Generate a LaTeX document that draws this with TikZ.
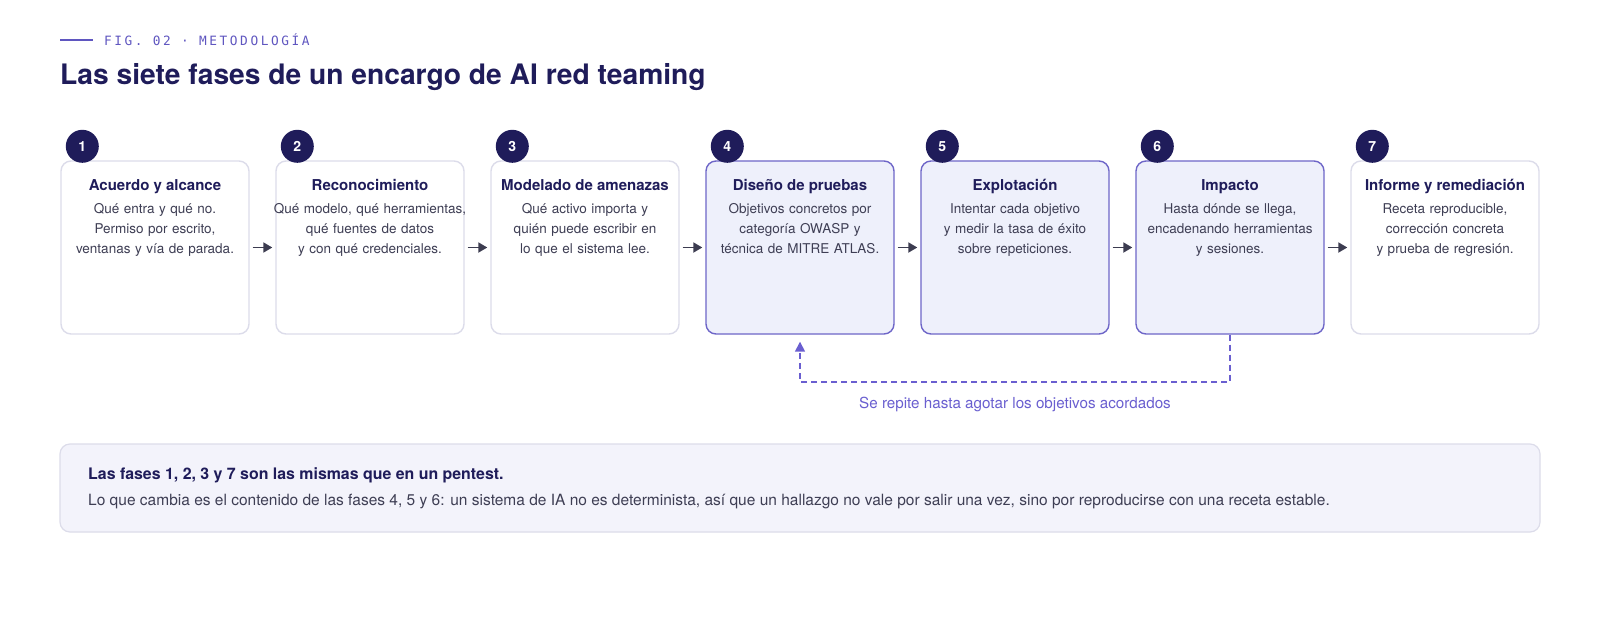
\documentclass[tikz,border=0pt]{standalone}
\usepackage{fontspec}
\setmainfont{TeX Gyre Heros}
\newfontfamily\monof[LetterSpace=20]{DejaVu Sans Mono}
\usetikzlibrary{arrows.meta,calc}
\definecolor{navy}{HTML}{1F1C5A}
\definecolor{accent}{HTML}{5F56C0}
\definecolor{loopc}{HTML}{6A5FD0}
\definecolor{bodyc}{HTML}{3E3E54}
\definecolor{lightb}{HTML}{DCDCEA}
\definecolor{hifill}{HTML}{EEF0FB}
\definecolor{hiborder}{HTML}{6E66C8}
\definecolor{notefill}{HTML}{F3F3FB}
\definecolor{arrowc}{HTML}{3C3C50}
\tikzset{
  phase/.style={draw=lightb, line width=1.4pt, fill=white, rounded corners=10pt,
    minimum width=188pt, minimum height=173pt, inner sep=0pt},
  hiphase/.style={phase, draw=hiborder, fill=hifill},
  ptitle/.style={anchor=base, text=navy, inner sep=0pt, font=\fontsize{15}{18}\selectfont\bfseries},
  pbody/.style={anchor=base, text=bodyc, inner sep=0pt, text width=220pt, align=center,
    font=\fontsize{13.5}{20}\selectfont},
  num/.style={circle, fill=navy, text=white, minimum size=33pt, inner sep=0pt,
    font=\fontsize{14}{16}\selectfont\bfseries},
  flow/.style={draw=arrowc, line width=1.8pt, -{Triangle[width=10pt,length=9pt]},
    shorten <=3pt, shorten >=3pt},
  loopline/.style={draw=loopc, line width=1.6pt, dash pattern=on 6pt off 4pt,
    -{Triangle[width=10pt,length=10pt]}, shorten >=7pt},
}
\begin{document}
\begin{tikzpicture}[x=1pt,y=-1pt]
\fill[white] (0,0) rectangle (1600,640);
\useasboundingbox (0,0) rectangle (1600,640);

% header
\coordinate (hl1) at (60,40);
\coordinate (hl2) at (93,40);
\draw[accent, line width=2pt] (hl1) -- (hl2);
\node[anchor=base west, inner sep=0pt, text=accent, font=\fontsize{12.8}{14}\monof] (kicker) at (104,45) {FIG. 02 · METODOLOGÍA};
\node[anchor=base west, inner sep=0pt, text=navy, font=\fontsize{28.2}{32}\selectfont\bfseries] (title) at (60,84) {Las siete fases de un encargo de AI red teaming};

% boxes
\node[phase]   (b1) at (155,247.5) {};
\node[phase]   (b2) at (370,247.5) {};
\node[phase]   (b3) at (585,247.5) {};
\node[hiphase] (b4) at (800,247.5) {};
\node[hiphase] (b5) at (1015,247.5) {};
\node[hiphase] (b6) at (1230,247.5) {};
\node[phase]   (b7) at (1445,247.5) {};

% numbers
\foreach \i in {1,...,7}{
  \node[num] (n\i) at ($(b\i.north west)+(22,-14)$) {\i};
}

% titles
\node[ptitle] (t1) at (155,190) {Acuerdo y alcance};
\node[ptitle] (t2) at (370,190) {Reconocimiento};
\node[ptitle] (t3) at (585,190) {Modelado de amenazas};
\node[ptitle] (t4) at (800,190) {Diseño de pruebas};
\node[ptitle] (t5) at (1015,190) {Explotación};
\node[ptitle] (t6) at (1230,190) {Impacto};
\node[ptitle] (t7) at (1445,190) {Informe y remediación};

% bodies
\node[pbody] (d1) at (155,213) {Qué entra y qué no.\\Permiso por escrito,\\ventanas y vía de parada.};
\node[pbody] (d2) at (370,213) {Qué modelo, qué herramientas,\\qué fuentes de datos\\y con qué credenciales.};
\node[pbody] (d3) at (585,213) {Qué activo importa y\\quién puede escribir en\\lo que el sistema lee.};
\node[pbody] (d4) at (800,213) {Objetivos concretos por\\categoría OWASP y\\técnica de MITRE ATLAS.};
\node[pbody] (d5) at (1015,213) {Intentar cada objetivo\\y medir la tasa de éxito\\sobre repeticiones.};
\node[pbody] (d6) at (1230,213) {Hasta dónde se llega,\\encadenando herramientas\\y sesiones.};
\node[pbody] (d7) at (1445,213) {Receta reproducible,\\corrección concreta\\y prueba de regresión.};

% flow arrows
\foreach \i/\j in {1/2,2/3,3/4,4/5,5/6,6/7}{
  \draw[flow] (b\i.east) -- (b\j.west);
}

% loop
\draw[loopline] (b6.south) -- ++(0,47) -| (b4.south);
\node[anchor=base, inner sep=0pt, text=loopc, font=\fontsize{15.2}{18}\selectfont] (looplabel) at (1015,408) {Se repite hasta agotar los objetivos acordados};

% note
\node[draw=lightb, line width=1.2pt, fill=notefill, rounded corners=10pt, minimum width=1480pt, minimum height=88pt, inner sep=0pt] (note) at (800,488) {};
\node[anchor=base west, inner sep=0pt, text=navy, font=\fontsize{15.9}{18}\selectfont\bfseries] (notehead) at (88,479) {Las fases 1, 2, 3 y 7 son las mismas que en un pentest.};
\node[anchor=base west, inner sep=0pt, text=bodyc, font=\fontsize{15.5}{18}\selectfont] (notebody) at (88,505) {Lo que cambia es el contenido de las fases 4, 5 y 6: un sistema de IA no es determinista, así que un hallazgo no vale por salir una vez, sino por reproducirse con una receta estable.};
\end{tikzpicture}
\end{document}
